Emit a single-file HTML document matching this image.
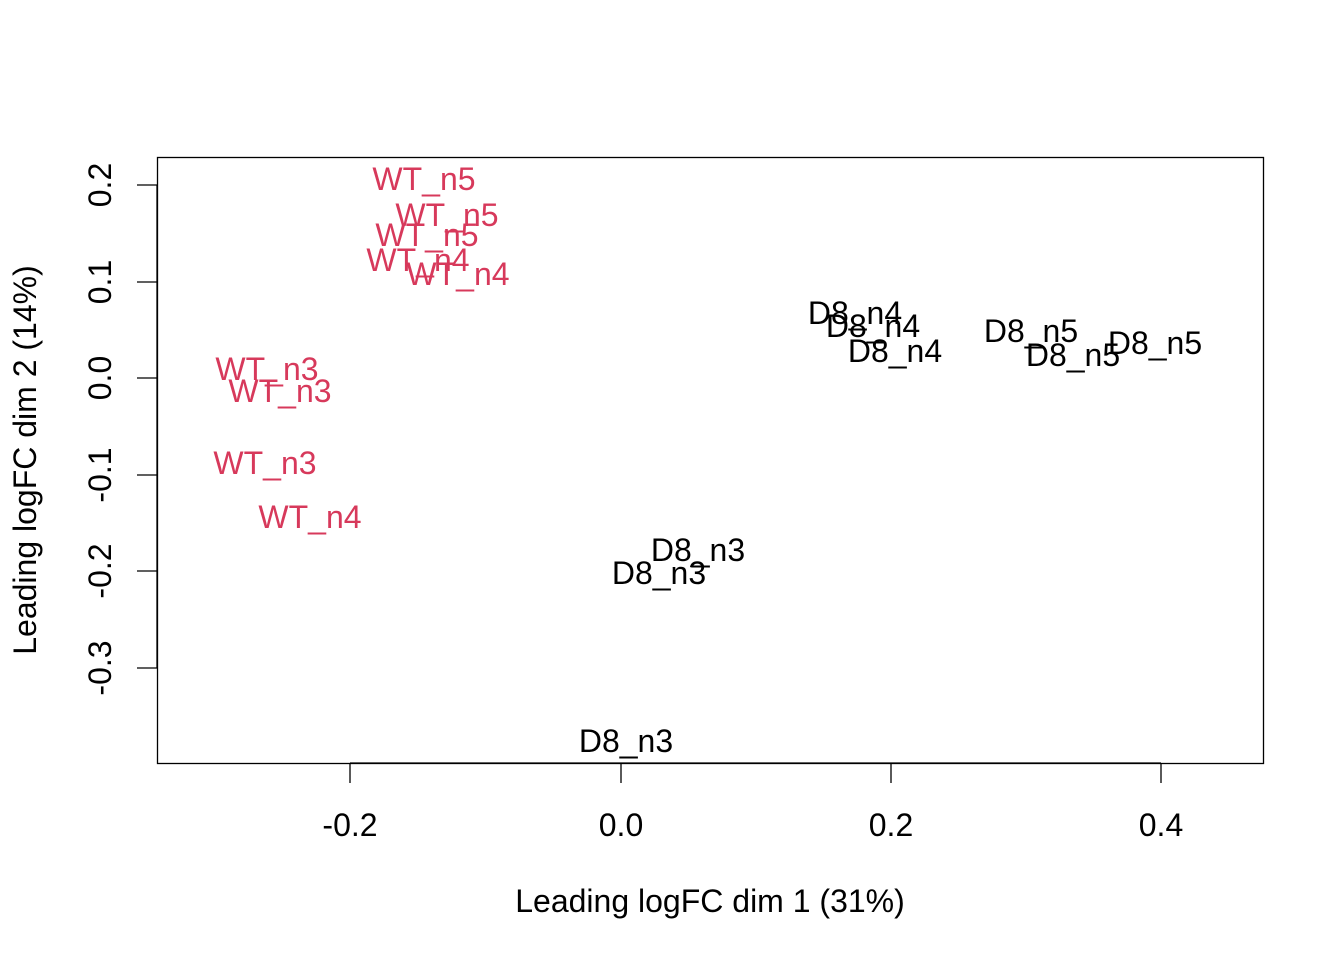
<!DOCTYPE html>
<html><head><meta charset="utf-8"><style>
html,body{margin:0;padding:0;background:#fff;}
svg{display:block;font-family:"Liberation Sans",Arial,sans-serif;}
</style></head><body>
<svg width="1344" height="960" viewBox="0 0 1344 960" xmlns="http://www.w3.org/2000/svg">
<rect x="0" y="0" width="1344" height="960" fill="#fff"/>
<rect x="157.5" y="157.5" width="1106" height="606" fill="none" stroke="#000" stroke-width="1.3"/>
<g stroke="#000" stroke-width="1.3">
<line x1="350" y1="763" x2="1161" y2="763"/>
<line x1="350" y1="763" x2="350" y2="783"/>
<line x1="621" y1="763" x2="621" y2="783"/>
<line x1="891" y1="763" x2="891" y2="783"/>
<line x1="1161" y1="763" x2="1161" y2="783"/>
<line x1="157" y1="185" x2="157" y2="668"/>
<line x1="137" y1="185" x2="157" y2="185"/>
<line x1="137" y1="282" x2="157" y2="282"/>
<line x1="137" y1="378" x2="157" y2="378"/>
<line x1="137" y1="475" x2="157" y2="475"/>
<line x1="137" y1="571" x2="157" y2="571"/>
<line x1="137" y1="668" x2="157" y2="668"/>
</g>
<g font-size="32" text-anchor="middle" fill="#000">
<text x="350" y="836">-0.2</text>
<text x="621" y="836">0.0</text>
<text x="891" y="836">0.2</text>
<text x="1161" y="836">0.4</text>
<text x="710" y="912">Leading logFC dim 1 (31%)</text>
<text transform="translate(111,185) rotate(-90)">0.2</text>
<text transform="translate(111,282) rotate(-90)">0.1</text>
<text transform="translate(111,378) rotate(-90)">0.0</text>
<text transform="translate(111,475) rotate(-90)">-0.1</text>
<text transform="translate(111,571) rotate(-90)">-0.2</text>
<text transform="translate(111,668) rotate(-90)">-0.3</text>
<text transform="translate(36,460) rotate(-90)">Leading logFC dim 2 (14%)</text>
</g>
<g font-size="32" text-anchor="middle" fill="#D7395B">
<text x="424" y="190">WT_n5</text>
<text x="447" y="226">WT_n5</text>
<text x="427" y="246">WT_n5</text>
<text x="418" y="271">WT_n4</text>
<text x="458" y="285">WT_n4</text>
<text x="267" y="380">WT_n3</text>
<text x="280" y="402">WT_n3</text>
<text x="265" y="474">WT_n3</text>
<text x="310" y="528">WT_n4</text>
</g>
<g font-size="32" text-anchor="middle" fill="#000">
<text x="855" y="324">D8_n4</text>
<text x="873" y="337">D8_n4</text>
<text x="895" y="362">D8_n4</text>
<text x="1031" y="342">D8_n5</text>
<text x="1073" y="366">D8_n5</text>
<text x="1155" y="354">D8_n5</text>
<text x="698" y="561">D8_n3</text>
<text x="659" y="584">D8_n3</text>
<text x="626" y="752">D8_n3</text>
</g>
</svg>
</body></html>
